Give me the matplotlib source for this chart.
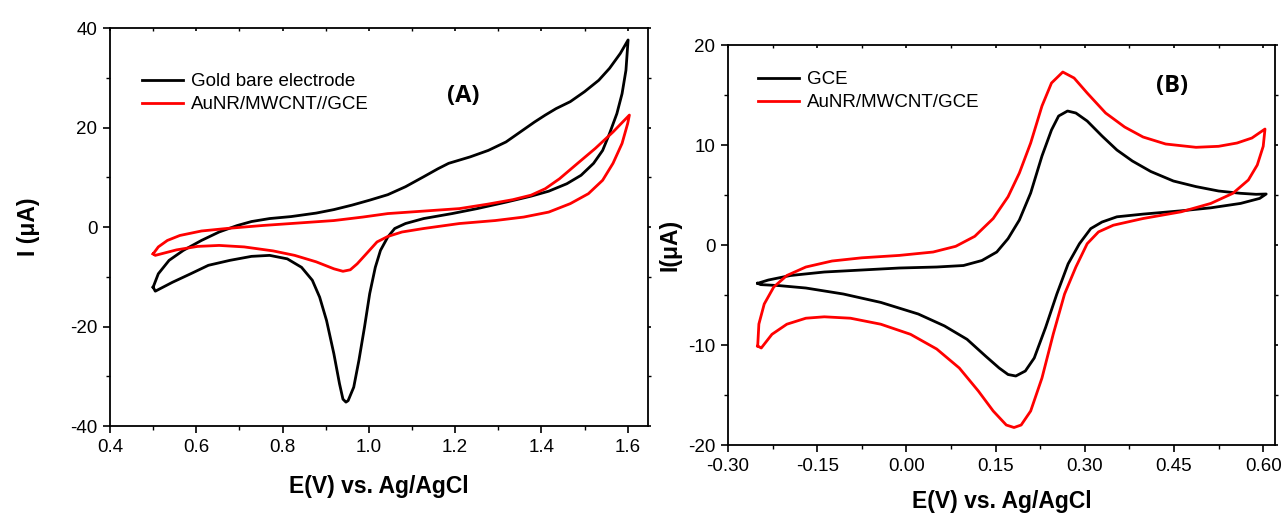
import matplotlib

matplotlib.use("Agg")
import matplotlib.pyplot as plt
from matplotlib.ticker import MultipleLocator

plt.rcParams["font.family"] = ["Liberation Sans", "DejaVu Sans"]

# ---------------- Panel A: gold bare electrode vs AuNR/MWCNT//GCE ----------------
a_gold_e = [0.500, 0.512, 0.537, 0.570, 0.612, 0.653, 0.695, 0.728, 0.770, 0.820,
            0.878, 0.919, 0.961, 1.002, 1.044, 1.085, 1.127, 1.160, 1.185, 1.235,
            1.277, 1.318, 1.351, 1.384, 1.409, 1.434, 1.467, 1.500, 1.533, 1.558,
            1.583, 1.601,
            1.596, 1.587, 1.575, 1.558, 1.542, 1.521, 1.492, 1.459, 1.417, 1.376,
            1.318, 1.251, 1.193, 1.127, 1.085, 1.060, 1.044, 1.027, 1.015, 1.002,
            0.990, 0.977, 0.965, 0.952, 0.947, 0.940, 0.932, 0.919, 0.902, 0.886,
            0.869, 0.844, 0.811, 0.770, 0.728, 0.678, 0.628, 0.587, 0.545, 0.505,
            0.500]
a_gold_i = [-12.1, -9.4, -6.7, -4.7, -2.7, -1.0, 0.3, 1.1, 1.7, 2.1,
            2.8, 3.5, 4.4, 5.4, 6.5, 8.1, 10.1, 11.7, 12.8, 14.1,
            15.4, 17.1, 19.1, 21.1, 22.5, 23.8, 25.2, 27.2, 29.5, 31.9,
            34.9, 37.6,
            31.5, 26.8, 22.8, 18.8, 15.4, 12.8, 10.4, 8.7, 7.2, 6.2,
            5.0, 3.7, 2.7, 1.7, 0.7, -0.3, -2.0, -4.7, -8.1, -13.4,
            -20.1, -26.8, -32.2, -34.9, -35.2, -34.6, -31.5, -25.5, -18.8, -14.1,
            -10.7, -8.1, -6.4, -5.7, -5.9, -6.7, -7.7, -9.4, -11.1, -12.9,
            -12.1]

a_aunr_e = [0.500, 0.512, 0.533, 0.562, 0.612, 0.670, 0.753, 0.836, 0.919, 0.986,
            1.044, 1.127, 1.210, 1.276, 1.334, 1.376, 1.409, 1.442, 1.484, 1.525,
            1.566, 1.604,
            1.600, 1.587, 1.566, 1.542, 1.509, 1.467, 1.417, 1.359, 1.293, 1.210,
            1.127, 1.077, 1.044, 1.019, 0.994, 0.973, 0.957, 0.940, 0.919, 0.878,
            0.828, 0.778, 0.711, 0.653, 0.603, 0.554, 0.505, 0.500]
a_aunr_i = [-5.4, -4.0, -2.7, -1.7, -0.8, -0.3, 0.3, 0.8, 1.3, 2.0,
            2.7, 3.2, 3.7, 4.6, 5.5, 6.4, 7.7, 9.7, 12.8, 15.8,
            19.1, 22.5,
            20.8, 16.8, 12.8, 9.4, 6.7, 4.7, 3.0, 2.0, 1.3, 0.7,
            -0.3, -1.0, -1.9, -3.0, -5.4, -7.4, -8.6, -8.9, -8.4, -7.0,
            -5.7, -4.8, -4.0, -3.7, -3.9, -4.6, -5.7, -5.4]

# ---------------- Panel B: GCE vs AuNR/MWCNT/GCE ----------------
b_gce_e = [-0.250, -0.232, -0.195, -0.138, -0.075, -0.012, 0.051, 0.096, 0.127, 0.152,
           0.171, 0.190, 0.209, 0.228, 0.244, 0.256, 0.271, 0.285, 0.304, 0.329,
           0.354, 0.380, 0.411, 0.449, 0.487, 0.525, 0.562, 0.588, 0.605,
           0.594, 0.562, 0.512, 0.462, 0.398, 0.354, 0.329, 0.310, 0.291, 0.272,
           0.253, 0.234, 0.215, 0.200, 0.184, 0.171, 0.156, 0.133, 0.102, 0.064,
           0.020, -0.043, -0.106, -0.169, -0.214, -0.245, -0.250]
b_gce_i = [-3.83, -3.5, -3.05, -2.7, -2.5, -2.3, -2.2, -2.05, -1.55, -0.7,
           0.64, 2.5, 5.2, 8.9, 11.5, 12.9, 13.4, 13.2, 12.4, 10.9,
           9.5, 8.4, 7.35, 6.4, 5.84, 5.4, 5.17, 5.07, 5.1,
           4.66, 4.16, 3.72, 3.42, 3.09, 2.82, 2.3, 1.64, 0.13, -1.88,
           -4.9, -8.26, -11.3, -12.6, -13.1, -12.95, -12.3, -11.1, -9.43, -8.09,
           -6.9, -5.74, -4.9, -4.3, -4.06, -3.96, -3.83]

b_aunr_e = [-0.250, -0.248, -0.239, -0.223, -0.201, -0.169, -0.125, -0.075, -0.012, 0.045,
            0.083, 0.115, 0.146, 0.171, 0.190, 0.209, 0.228, 0.244, 0.263, 0.282,
            0.304, 0.335, 0.367, 0.398, 0.436, 0.487, 0.525, 0.556, 0.581, 0.603,
            0.600, 0.590, 0.575, 0.549, 0.512, 0.462, 0.398, 0.348, 0.323, 0.304,
            0.285, 0.266, 0.247, 0.228, 0.209, 0.193, 0.181, 0.168, 0.146, 0.121,
            0.089, 0.051, 0.007, -0.043, -0.094, -0.138, -0.169, -0.201, -0.226,
            -0.244, -0.250]
b_aunr_i = [-10.1, -7.9, -5.9, -4.2, -3.05, -2.2, -1.6, -1.28, -1.04, -0.7,
            -0.13, 0.87, 2.65, 4.83, 7.2, 10.2, 13.9, 16.2, 17.3, 16.7,
            15.2, 13.2, 11.8, 10.8, 10.1, 9.77, 9.87, 10.2, 10.7, 11.6,
            9.87, 8.0, 6.5, 5.17, 4.16, 3.32, 2.65, 1.98, 1.31, 0.13,
            -2.2, -4.9, -8.9, -13.3, -16.6, -18.0, -18.25, -18.0, -16.6, -14.6,
            -12.3, -10.4, -8.93, -7.92, -7.32, -7.18, -7.32, -7.92, -8.93,
            -10.3, -10.1]

a_xticks = [0.4, 0.6, 0.8, 1.0, 1.2, 1.4, 1.6]
a_yticks = [-40, -20, 0, 20, 40]
b_xticks = [-0.30, -0.15, 0.00, 0.15, 0.30, 0.45, 0.60]
b_yticks = [-20, -10, 0, 10, 20]

LW = 2.0
TICK_FS = 13.5
LABEL_FS = 16.5
LEG_FS = 13.5


def style_axes(ax):
    for sp in ax.spines.values():
        sp.set_linewidth(1.3)
    ax.tick_params(which="major", direction="out", length=5, width=1.2,
                   labelsize=TICK_FS, pad=4)
    ax.tick_params(which="minor", direction="out", length=3, width=1.0)
    ax.tick_params(which="both", top=True, right=True)
    # top / right ticks as short inward marks, like the Origin export
    for t in ax.xaxis.get_major_ticks() + ax.xaxis.get_minor_ticks():
        t.tick2line.set_marker(3)
        t.tick2line.set_markersize(2)
    for t in ax.yaxis.get_major_ticks() + ax.yaxis.get_minor_ticks():
        t.tick2line.set_marker(1)
        t.tick2line.set_markersize(2)


def add_legend(ax, x0, y0):
    ax.legend(loc="upper left", bbox_to_anchor=(x0, y0), frameon=False,
              fontsize=LEG_FS, handlelength=2.2, handletextpad=0.4,
              labelspacing=0.32, borderaxespad=0, borderpad=0)


fig = plt.figure(figsize=(12.85, 5.15), dpi=100)
ax_a = fig.add_axes([0.0856, 0.1728, 0.4183, 0.7728])
ax_b = fig.add_axes([0.5665, 0.1359, 0.4258, 0.7767])

# Panel A
ax_a.plot(a_gold_e, a_gold_i, color="black", lw=LW, label="Gold bare electrode")
ax_a.plot(a_aunr_e, a_aunr_i, color="#ff0000", lw=LW, label="AuNR/MWCNT//GCE")
ax_a.set_xlim(0.4, 1.646)
ax_a.set_ylim(-40, 40)
ax_a.set_xticks(a_xticks)
ax_a.set_yticks(a_yticks)
ax_a.set_xticklabels([f"{v:.1f}" for v in a_xticks])
ax_a.set_yticklabels([str(v) for v in a_yticks])
ax_a.xaxis.set_minor_locator(MultipleLocator(0.1))
ax_a.yaxis.set_minor_locator(MultipleLocator(10))
ax_a.set_xlabel("E(V) vs. Ag/AgCl", fontsize=LABEL_FS, fontweight="bold", labelpad=14)
ax_a.set_ylabel("I (\u03bcA)", fontsize=LABEL_FS, fontweight="bold", labelpad=22)
add_legend(ax_a, 0.06, 0.887)
ax_a.text(0.658, 0.829, "(A)", transform=ax_a.transAxes, fontsize=17,
          fontweight="bold", family=["Open Sans", "DejaVu Sans"],
          ha="center", va="center")
style_axes(ax_a)

# Panel B
ax_b.plot(b_gce_e, b_gce_i, color="black", lw=LW, label="GCE")
ax_b.plot(b_aunr_e, b_aunr_i, color="#ff0000", lw=LW, label="AuNR/MWCNT/GCE")
ax_b.set_xlim(-0.30, 0.62)
ax_b.set_ylim(-20, 20)
ax_b.set_xticks(b_xticks)
ax_b.set_yticks(b_yticks)
ax_b.set_xticklabels([f"{v:.2f}" for v in b_xticks])
ax_b.set_yticklabels([str(v) for v in b_yticks])
ax_b.xaxis.set_minor_locator(MultipleLocator(0.075))
ax_b.yaxis.set_minor_locator(MultipleLocator(5))
ax_b.set_xlabel("E(V) vs. Ag/AgCl", fontsize=LABEL_FS, fontweight="bold", labelpad=11)
ax_b.set_ylabel("I(\u03bcA)", fontsize=LABEL_FS, fontweight="bold", labelpad=5)
add_legend(ax_b, 0.055, 0.935)
ax_b.text(0.811, 0.898, "(B)", transform=ax_b.transAxes, fontsize=17,
          fontweight="bold", family=["Open Sans", "DejaVu Sans"],
          ha="center", va="center")
style_axes(ax_b)

fig.savefig("out.png", dpi=100)
